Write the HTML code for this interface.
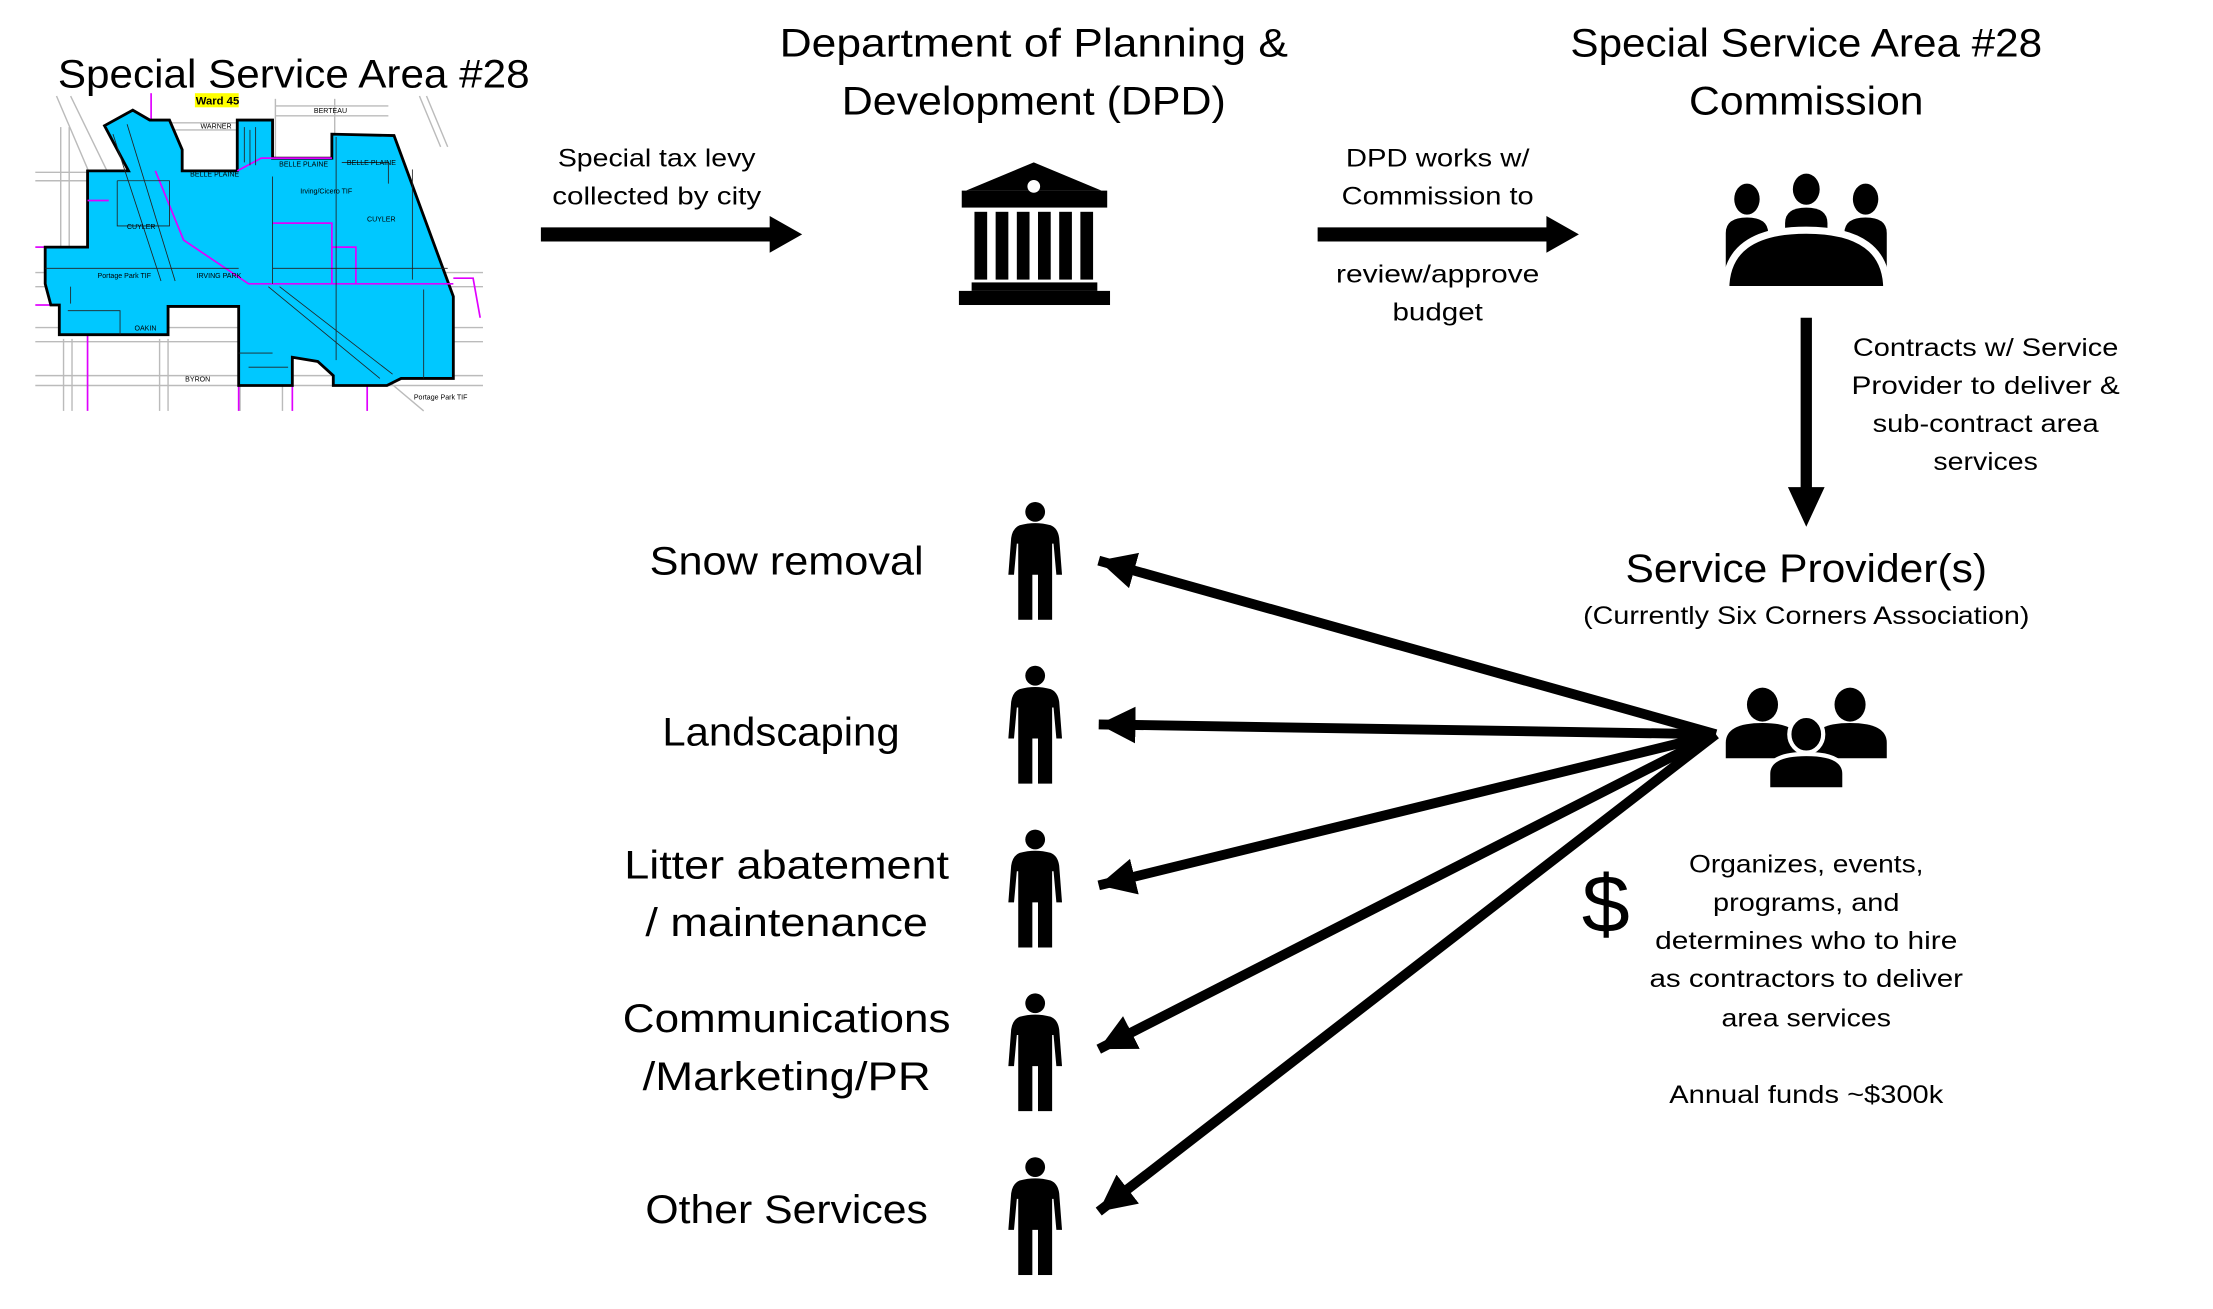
<!DOCTYPE html>
<html><head><meta charset="utf-8"><style>
html,body{margin:0;padding:0;background:#fff;}
svg{display:block;}
text{font-family:"Liberation Sans",sans-serif;fill:#000;}
.t{font-size:28px;}
.s{font-size:18px;}
</style></head><body>
<svg width="2213" height="1309" viewBox="0 0 1567 927" preserveAspectRatio="none" xmlns="http://www.w3.org/2000/svg">
<defs>
<marker id="ah" markerUnits="userSpaceOnUse" markerWidth="30" markerHeight="30" refX="26" refY="13" orient="auto">
<path d="M0,0 L26,13 L0,26 z" fill="#000"/>
</marker>
<symbol id="person" viewBox="0 0 40 84">
<circle cx="20" cy="7.5" r="7"/>
<path d="M9,17 Q20,14 31,17 Q36,19 37,26 L39,52 L35,52 L33,30 L32,30 L32,84 L22,84 L22,52 L18,52 L18,84 L8,84 L8,30 L7,30 L5,52 L1,52 L3,26 Q4,19 9,17 z"/>
</symbol>
</defs>

<!-- Map -->
<g>
<rect x="25" y="65" width="317" height="226" fill="#fff"/>
<g stroke="#bbb" stroke-width="1" fill="none">
<line x1="25" y1="122" x2="62" y2="122"/><line x1="25" y1="128" x2="62" y2="128"/>
<line x1="25" y1="193" x2="342" y2="193"/><line x1="25" y1="203" x2="342" y2="203"/>
<line x1="25" y1="232" x2="342" y2="232"/><line x1="25" y1="242" x2="342" y2="242"/>
<line x1="25" y1="266" x2="342" y2="266"/><line x1="25" y1="273" x2="342" y2="273"/>
<line x1="45" y1="240" x2="45" y2="291"/><line x1="51" y1="240" x2="51" y2="291"/>
<line x1="113" y1="240" x2="113" y2="291"/><line x1="119" y1="240" x2="119" y2="291"/>
<line x1="170" y1="265" x2="170" y2="291"/><line x1="200" y1="265" x2="200" y2="291"/>
<line x1="195" y1="70" x2="195" y2="112"/><line x1="237" y1="70" x2="237" y2="95"/>
<line x1="195" y1="75" x2="275" y2="75"/><line x1="195" y1="82" x2="275" y2="82"/>
<line x1="120" y1="87" x2="168" y2="87"/><line x1="120" y1="92" x2="168" y2="92"/>
<line x1="40" y1="68" x2="75" y2="150"/><line x1="50" y1="68" x2="85" y2="140"/>
<line x1="297" y1="68" x2="312" y2="104"/><line x1="302" y1="68" x2="317" y2="104"/>
<line x1="43" y1="90" x2="43" y2="175"/><line x1="49" y1="90" x2="49" y2="175"/>
<line x1="275" y1="270" x2="300" y2="291"/>
</g>
<g stroke="#e000ff" stroke-width="1.2" fill="none">
<line x1="107" y1="66" x2="107" y2="85"/>
<line x1="25" y1="175" x2="32" y2="175"/><line x1="25" y1="216" x2="36" y2="216"/>
<line x1="62" y1="142" x2="62" y2="291"/>
<line x1="169" y1="273" x2="169" y2="291"/><line x1="207" y1="273" x2="207" y2="291"/>
<line x1="260" y1="273" x2="260" y2="291"/>
<polyline points="321,197 335,197 340,225"/>
</g>
<polygon fill="#00c8ff" stroke="#000" stroke-width="2" points="74,89 94,78 106,85 120,85 129,106 129,121 168,121 168,85 193,85 193,112 235,112 235,95 279,96 321,210 321,268 284,268 274,273 236,273 236,266 225,256 207,253 207,273 169,273 169,217 119,217 119,237 42,237 42,216 36,216 32,201 32,175 62,175 62,121 91,121"/>
<g stroke="#e000ff" stroke-width="1.2" fill="none">
<polyline points="62,142 77,142"/>
<polyline points="110,121 130,170 176,201 321,201"/>
<polyline points="168,121 185,112 235,112"/>
<polyline points="193,158 235,158 235,201"/>
<polyline points="235,175 252,175 252,201"/>
</g>
<g stroke="#222" stroke-width="0.6" fill="none">
<polyline points="80,95 114,199"/><polyline points="90,88 124,199"/>
<polyline points="193,125 193,201"/><polyline points="193,190 317,190"/>
<polyline points="32,190 169,190"/>
<polyline points="190,203 269,268"/><polyline points="198,203 278,265"/>
<polyline points="238,97 238,255"/><polyline points="242,115 275,115 275,130"/>
<polyline points="83,128 120,128 120,160 83,160 83,128"/>
<polyline points="48,220 85,220 85,237"/><polyline points="50,203 50,215"/>
<polyline points="173,90 173,115"/><polyline points="177,92 177,117"/><polyline points="181,90 181,117"/>
<polyline points="292,120 292,198"/><polyline points="300,205 300,268"/>
<polyline points="169,250 193,250"/><polyline points="176,260 204,260"/>
</g>
<rect x="138" y="66" width="31" height="10" fill="#ffff00"/>
<text x="154" y="74" font-size="8" text-anchor="middle" font-weight="bold">Ward 45</text>
<text x="234" y="80" font-size="5" text-anchor="middle">BERTEAU</text>
<text x="153" y="91" font-size="5" text-anchor="middle">WARNER</text>
<text x="215" y="118" font-size="5" text-anchor="middle">BELLE PLAINE</text>
<text x="263" y="117" font-size="5" text-anchor="middle">BELLE PLAINE</text>
<text x="152" y="125" font-size="5" text-anchor="middle">BELLE PLAINE</text>
<text x="231" y="137" font-size="5" text-anchor="middle" fill="#e000ff">Irving/Cicero TIF</text>
<text x="100" y="162" font-size="5" text-anchor="middle">CUYLER</text>
<text x="270" y="157" font-size="5" text-anchor="middle">CUYLER</text>
<text x="88" y="197" font-size="5" text-anchor="middle" fill="#e000ff">Portage Park TIF</text>
<text x="155" y="197" font-size="5" text-anchor="middle">IRVING PARK</text>
<text x="103" y="234" font-size="5" text-anchor="middle">OAKIN</text>
<text x="140" y="270" font-size="5" text-anchor="middle">BYRON</text>
<text x="312" y="283" font-size="5" text-anchor="middle" fill="#e000ff">Portage Park TIF</text>
</g>

<!-- Titles -->
<text class="t" x="208" y="62" text-anchor="middle" textLength="334" lengthAdjust="spacingAndGlyphs">Special Service Area #28</text>
<text class="t" x="732" y="40" text-anchor="middle" textLength="360" lengthAdjust="spacingAndGlyphs">Department of Planning &amp;</text>
<text class="t" x="732" y="81" text-anchor="middle" textLength="272" lengthAdjust="spacingAndGlyphs">Development (DPD)</text>
<text class="t" x="1279" y="40" text-anchor="middle" textLength="334" lengthAdjust="spacingAndGlyphs">Special Service Area #28</text>
<text class="t" x="1279" y="81" text-anchor="middle" textLength="166" lengthAdjust="spacingAndGlyphs">Commission</text>

<!-- Arrow 1 -->
<polygon points="383,161 545,161 545,153 568,166 545,179 545,171 383,171"/>
<text class="s" x="465" y="118" text-anchor="middle" textLength="140" lengthAdjust="spacingAndGlyphs">Special tax levy</text>
<text class="s" x="465" y="145" text-anchor="middle" textLength="148" lengthAdjust="spacingAndGlyphs">collected by city</text>

<!-- Bank -->
<g>
<polygon points="732,115 780,135 684,135"/>
<rect x="681" y="135" width="103" height="12"/>
<circle cx="732" cy="132" r="4.5" fill="#fff"/>
<rect x="690" y="150" width="9" height="48"/>
<rect x="705" y="150" width="9" height="48"/>
<rect x="720" y="150" width="9" height="48"/>
<rect x="735" y="150" width="9" height="48"/>
<rect x="750" y="150" width="9" height="48"/>
<rect x="765" y="150" width="9" height="48"/>
<rect x="688" y="200" width="89" height="6"/>
<rect x="679" y="206" width="107" height="10"/>
</g>

<!-- Arrow 2 -->
<polygon points="933,161 1095,161 1095,153 1118,166 1095,179 1095,171 933,171"/>
<text class="s" x="1018" y="118" text-anchor="middle" textLength="130" lengthAdjust="spacingAndGlyphs">DPD works w/</text>
<text class="s" x="1018" y="145" text-anchor="middle" textLength="136" lengthAdjust="spacingAndGlyphs">Commission to</text>
<text class="s" x="1018" y="200" text-anchor="middle" textLength="144" lengthAdjust="spacingAndGlyphs">review/approve</text>
<text class="s" x="1018" y="227" text-anchor="middle" textLength="64" lengthAdjust="spacingAndGlyphs">budget</text>

<!-- Commission icon -->
<g>
<ellipse cx="1237" cy="141" rx="9" ry="11"/>
<ellipse cx="1279" cy="134" rx="9.5" ry="11"/>
<ellipse cx="1321" cy="141" rx="9" ry="11"/>
<path d="M1222,200 L1222,165 Q1222,154 1237,154 Q1252,154 1252,165 L1252,200 z"/>
<path d="M1264,190 L1264,158 Q1264,147 1279,147 Q1294,147 1294,158 L1294,190 z"/>
<path d="M1306,200 L1306,165 Q1306,154 1321,154 Q1336,154 1336,165 L1336,200 z"/>
<path d="M1222,205 Q1222,163 1279,163 Q1336,163 1336,205 z" stroke="#fff" stroke-width="5"/>
<rect x="1219" y="205" width="120" height="4" fill="#fff"/>
</g>

<!-- Down arrow -->
<polygon points="1275,225 1283,225 1283,345 1292,345 1279,373 1266,345 1275,345"/>
<text class="s" x="1406" y="252" text-anchor="middle" textLength="188" lengthAdjust="spacingAndGlyphs">Contracts w/ Service</text>
<text class="s" x="1406" y="279" text-anchor="middle" textLength="190" lengthAdjust="spacingAndGlyphs">Provider to deliver &amp;</text>
<text class="s" x="1406" y="306" text-anchor="middle" textLength="160" lengthAdjust="spacingAndGlyphs">sub-contract area</text>
<text class="s" x="1406" y="333" text-anchor="middle" textLength="74" lengthAdjust="spacingAndGlyphs">services</text>

<text class="t" x="1279" y="412" text-anchor="middle" textLength="256" lengthAdjust="spacingAndGlyphs">Service Provider(s)</text>
<text class="s" x="1279" y="442" text-anchor="middle" textLength="316" lengthAdjust="spacingAndGlyphs">(Currently Six Corners Association)</text>

<!-- Group icon -->
<g>
<ellipse cx="1248" cy="499" rx="11" ry="12"/>
<ellipse cx="1310" cy="499" rx="11" ry="12"/>
<path d="M1222,537 L1222,526 Q1222,512 1248,512 Q1274,512 1274,526 L1274,537 z"/>
<path d="M1284,537 L1284,526 Q1284,512 1310,512 Q1336,512 1336,526 L1336,537 z"/>
<ellipse cx="1279" cy="520" rx="12" ry="13" stroke="#fff" stroke-width="3"/>
<path d="M1252,559 L1252,548 Q1252,534 1279,534 Q1306,534 1306,548 L1306,559 z" stroke="#fff" stroke-width="3"/>
</g>

<!-- Fan arrows -->
<g stroke="#000" stroke-width="7" fill="none" marker-end="url(#ah)">
<line x1="1215" y1="520" x2="778" y2="397"/>
<line x1="1215" y1="520" x2="778" y2="513"/>
<line x1="1215" y1="520" x2="778" y2="627"/>
<line x1="1215" y1="520" x2="778" y2="743"/>
<line x1="1215" y1="520" x2="778" y2="858"/>
</g>

<!-- Persons -->
<use href="#person" x="713" y="355" width="40" height="84"/>
<use href="#person" x="713" y="471" width="40" height="84"/>
<use href="#person" x="713" y="587" width="40" height="84"/>
<use href="#person" x="713" y="703" width="40" height="84"/>
<use href="#person" x="713" y="819" width="40" height="84"/>

<!-- Service labels -->
<text class="t" x="557" y="407" text-anchor="middle" textLength="194" lengthAdjust="spacingAndGlyphs">Snow removal</text>
<text class="t" x="553" y="528" text-anchor="middle" textLength="168" lengthAdjust="spacingAndGlyphs">Landscaping</text>
<text class="t" x="557" y="622" text-anchor="middle" textLength="230" lengthAdjust="spacingAndGlyphs">Litter abatement</text>
<text class="t" x="557" y="663" text-anchor="middle" textLength="200" lengthAdjust="spacingAndGlyphs">/ maintenance</text>
<text class="t" x="557" y="731" text-anchor="middle" textLength="232" lengthAdjust="spacingAndGlyphs">Communications</text>
<text class="t" x="557" y="772" text-anchor="middle" textLength="204" lengthAdjust="spacingAndGlyphs">/Marketing/PR</text>
<text class="t" x="557" y="866" text-anchor="middle" textLength="200" lengthAdjust="spacingAndGlyphs">Other Services</text>

<!-- Dollar and text -->
<text x="1137" y="660" font-size="58" text-anchor="middle" textLength="34" lengthAdjust="spacingAndGlyphs">$</text>
<text class="s" x="1279" y="618" text-anchor="middle" textLength="166" lengthAdjust="spacingAndGlyphs">Organizes, events,</text>
<text class="s" x="1279" y="645" text-anchor="middle" textLength="132" lengthAdjust="spacingAndGlyphs">programs, and</text>
<text class="s" x="1279" y="672" text-anchor="middle" textLength="214" lengthAdjust="spacingAndGlyphs">determines who to hire</text>
<text class="s" x="1279" y="699" text-anchor="middle" textLength="222" lengthAdjust="spacingAndGlyphs">as contractors to deliver</text>
<text class="s" x="1279" y="727" text-anchor="middle" textLength="120" lengthAdjust="spacingAndGlyphs">area services</text>
<text class="s" x="1279" y="781" text-anchor="middle" textLength="194" lengthAdjust="spacingAndGlyphs">Annual funds ~$300k</text>
</svg>
</body></html>
